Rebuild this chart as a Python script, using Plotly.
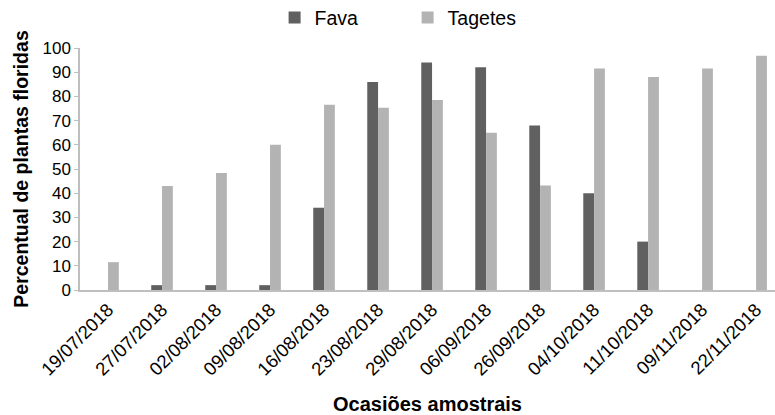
import plotly.graph_objects as go

dates = ["19/07/2018", "27/07/2018", "02/08/2018", "09/08/2018", "16/08/2018",
         "23/08/2018", "29/08/2018", "06/09/2018", "26/09/2018", "04/10/2018",
         "11/10/2018", "09/11/2018", "22/11/2018"]
fava = [0, 2, 2, 2, 34, 86, 94, 92, 68, 40, 20, 0, 0]
tagetes = [11.5, 43, 48.3, 60, 76.5, 75.3, 78.5, 65, 43.2, 91.5, 88, 91.5, 96.8]
y_ticks = [0, 10, 20, 30, 40, 50, 60, 70, 80, 90, 100]

FONT = "Liberation Sans, Arial, sans-serif"

fig = go.Figure()
fig.add_trace(go.Bar(name="Fava", x=dates, y=fava, marker=dict(color="#606060", line=dict(width=0))))
fig.add_trace(go.Bar(name="Tagetes", x=dates, y=tagetes, marker=dict(color="#b3b3b3", line=dict(width=0))))

fig.update_layout(
    width=775, height=415,
    margin=dict(l=80, r=0, t=48, b=125, autoexpand=False),
    paper_bgcolor="white", plot_bgcolor="white",
    barmode="group", bargap=0.6, bargroupgap=0,
    font=dict(family=FONT, color="#000000", size=17),
    showlegend=True,
    legend=dict(orientation="h", x=0.28, xanchor="left", y=1.125, yanchor="middle",
                font=dict(size=19.5, family=FONT), itemwidth=30,
                entrywidth=88, entrywidthmode="pixels", traceorder="normal"),
)
fig.update_xaxes(
    type="category", range=[-0.519, 12.35], automargin=False,
    showline=True, linecolor="#bfbfbf", linewidth=1.5,
    ticks="", tickangle=-45, tickfont=dict(size=18.5, family=FONT),
    showgrid=False,
    title=dict(text="<b>Ocasiões amostrais</b>", font=dict(size=20, family=FONT), standoff=18),
)
fig.update_yaxes(
    range=[0, 100], tickvals=y_ticks, automargin=False,
    showline=True, linecolor="#bfbfbf", linewidth=1.5,
    ticks="outside", ticklen=4, tickcolor="#bfbfbf",
    showgrid=False, zeroline=False,
    tickfont=dict(size=17, family=FONT),
    title=dict(text="<b>Percentual de plantas floridas</b>", font=dict(size=19.5, family=FONT), standoff=9),
)

fig.write_html("out.html", config={"displayModeBar": False},
               post_script="document.body.style.margin='0';")
